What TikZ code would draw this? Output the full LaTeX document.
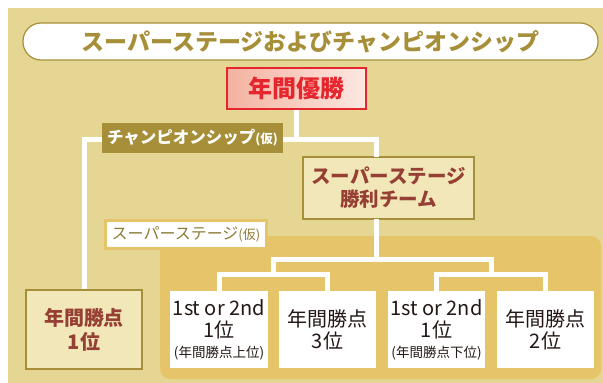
\documentclass[tikz,border=0pt]{standalone}
\usepackage{fontspec}
\setmainfont{Noto Sans CJK JP}
\definecolor{bgtan}{HTML}{E6D694}
\definecolor{goldreg}{HTML}{E6C46A}
\definecolor{olive}{HTML}{A68F38}
\definecolor{olivetext}{HTML}{8E7B36}
\definecolor{cream}{HTML}{F1E7B8}
\definecolor{darkred}{HTML}{963F35}
\definecolor{redA}{HTML}{E6262E}
\definecolor{pinkA}{HTML}{F4B2A0}
\definecolor{pinkB}{HTML}{FCE8E2}
\definecolor{ink}{HTML}{231815}
\tikzset{
  conn/.style={draw=white, line width=5pt, line join=miter},
  creambox/.style={draw=olive, line width=1.8pt, fill=cream, text=darkred, inner sep=0pt, align=center,
    font=\bfseries\fontsize{20}{24}\selectfont},
  whitebox/.style={fill=white, inner sep=0pt, align=center, text=ink,
    minimum width=97pt, minimum height=77pt, font=\fontsize{20}{22}\selectfont},
  tagbox/.style={inner sep=0pt, align=center},
}
\begin{document}
\begin{tikzpicture}[x=1pt,y=-1pt]
\useasboundingbox (0,0) rectangle (603,383);
% backgrounds
\fill[bgtan] (8,8) rectangle (603,383);
\fill[goldreg, rounded corners=10pt] (160,236) rectangle (601,379);
% title
\node[draw=olive, line width=1.2pt, fill=white, rounded corners=18pt, minimum width=575pt, minimum height=37pt,
  inner sep=0pt, text=olive, font=\bfseries\fontsize{23}{23}\selectfont] (title) at (310.5,41.5)
  {スーパーステージおよびチャンピオンシップ};
% top champion
\node[draw=redA, line width=1.6pt, left color=pinkA, right color=pinkB, minimum width=139pt, minimum height=41pt,
  inner sep=0pt, text=redA, font=\bfseries\fontsize{24}{24}\selectfont] (yusho) at (296.5,88.5) {年間優勝};
% super stage winner
\node[creambox, minimum width=171pt, minimum height=62pt, font=\bfseries\fontsize{19.5}{23}\selectfont] (win) at (388.5,188)
  {スーパーステージ\\勝利チーム};
% rank 1 box
\node[creambox, minimum width=116pt, minimum height=79pt] (rank1) at (84,329.5) {年間勝点\\1位};
% bottom boxes
\node[whitebox, minimum width=98pt] (b1) at (219,329.5)
  {1st or 2nd\\1位\\[-2pt]{\fontsize{13.5}{16}\selectfont (年間勝点上位)}};
\node[whitebox] (b2) at (327.5,329.5) {年間勝点\\3位};
\node[whitebox] (b3) at (436.5,329.5)
  {1st or 2nd\\1位\\[-2pt]{\fontsize{13.5}{16}\selectfont (年間勝点下位)}};
\node[whitebox] (b4) at (545.5,329.5) {年間勝点\\2位};
% helper coordinates
\coordinate (hl) at (0,139.5);
\coordinate (wt) at (376,157);
\coordinate (wb) at (376,219);
\coordinate (tier) at (0,259.5);
\coordinate (m1) at (273,274);
\coordinate (m2) at (491,274);
% connectors
\draw[conn] (yusho.south) -- (yusho.south |- hl);
\draw[conn] (rank1.north) -- (rank1.north |- hl) -| (wt);
\draw[conn] (wb) -- (wb |- tier);
\draw[conn] (m1) -- (m1 |- tier) -| (m2);
\draw[conn] (b1.north) |- (m1) -| (b2.north);
\draw[conn] (b3.north) |- (m2) -| (b4.north);
% labels
\node[tagbox, fill=olive, minimum width=181pt, minimum height=30pt, text=white] (champ) at (192.5,138)
  {\bfseries\fontsize{16.5}{16}\selectfont チャンピオンシップ\fontsize{12.5}{12}\selectfont(仮)};
\node[tagbox, draw=goldreg, line width=3pt, fill=white, minimum width=161pt, minimum height=28pt, text=olivetext] (super) at (186,234.5)
  {\fontsize{16}{16}\selectfont スーパーステージ\fontsize{13}{12}\selectfont(仮)};
\end{tikzpicture}
\end{document}
